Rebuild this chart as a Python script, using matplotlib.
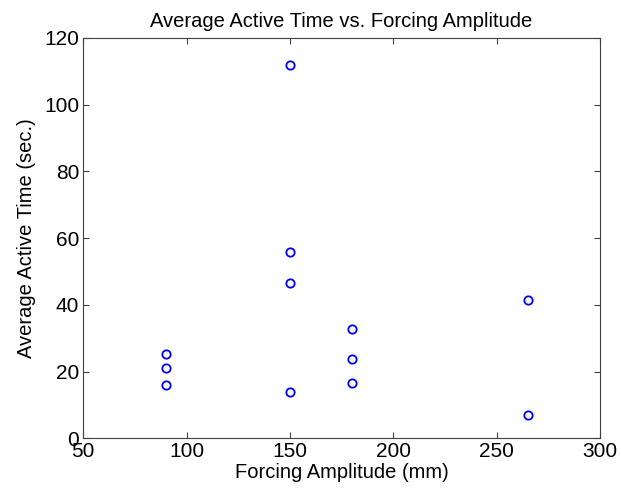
import matplotlib
matplotlib.use("Agg")
import matplotlib.pyplot as plt

plt.rcParams['font.family'] = ['Liberation Sans', 'DejaVu Sans']

amplitude = [90, 90, 90, 150, 150, 150, 150, 180, 180, 180, 265, 265]
active_time = [25.2, 21.0, 15.9, 112.0, 55.8, 46.4, 13.8, 32.8, 23.8, 16.5, 41.4, 6.9]

fig = plt.figure(figsize=(6.21, 4.98), dpi=100)
ax = fig.add_axes([0.134, 0.120, 0.832, 0.804])
ax.plot(amplitude, active_time, 'o', color='blue', markerfacecolor='none',
        markersize=6, markeredgewidth=1.3)
ax.set_xlim(50, 300)
ax.set_ylim(0, 120)
ax.set_xticks([50, 100, 150, 200, 250, 300])
ax.set_yticks([0, 20, 40, 60, 80, 100, 120])
for s in ax.spines.values():
    s.set_color('#404040')
ax.tick_params(direction='in', top=True, right=True, labelsize=15, length=4,
               color='#404040', pad=3)
ax.set_title('Average Active Time vs. Forcing Amplitude', fontsize=14.5, pad=8)
ax.set_xlabel('Forcing Amplitude (mm)', fontsize=14.5, labelpad=1)
ax.set_ylabel('Average Active Time (sec.)', fontsize=14.5, labelpad=6)
fig.savefig('out.png', dpi=100)
